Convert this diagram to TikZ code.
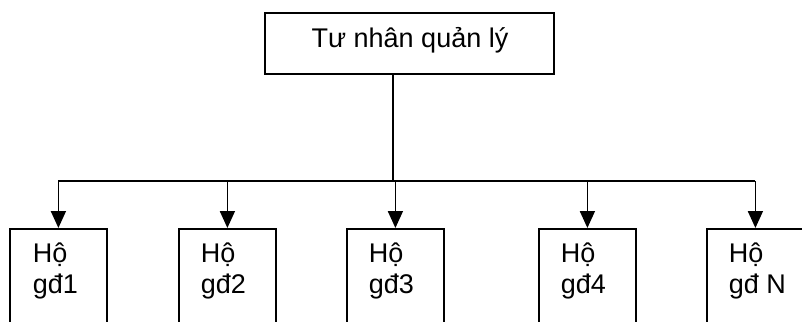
\documentclass[tikz,border=0pt]{standalone}
\usepackage{fontspec}
\setmainfont{Liberation Sans}
\usetikzlibrary{arrows.meta}
\begin{document}
\begin{tikzpicture}[x=1pt,y=-1pt,line width=1.8pt,
  box/.style={draw,rectangle,inner sep=0pt},
  hobox/.style={box,minimum width=97pt,minimum height=130pt,anchor=north west},
  txt/.style={font=\fontsize{27}{31}\selectfont,inner sep=0pt},
  hotxt/.style={txt,align=left,anchor=base west},
  link/.style={-{Triangle[length=17pt,width=15pt]}}]
\useasboundingbox (0,0) rectangle (802,321);
\clip (0,0) rectangle (802,321);
% owner box
\node[box,minimum width=289pt,minimum height=61pt] (top) at (409.5,43.5) {};
\node[txt,anchor=base] (toptext) at (410,48) {Tư nhân quản lý};
% household boxes
\node[hobox] (h1) at (9,228) {};
\node[hobox] (h2) at (178,228) {};
\node[hobox] (h3) at (346,228) {};
\node[hobox] (h4) at (538,228) {};
\node[hobox] (hN) at (706,228) {};
% labels: the base anchor sits on the last line
\node[hotxt] (t1) at (32,293) {Hộ\\gđ1};
\node[hotxt] (t2) at (200,293) {Hộ\\gđ2};
\node[hotxt] (t3) at (368,293) {Hộ\\gđ3};
\node[hotxt] (t4) at (560,293) {Hộ\\gđ4};
\node[hotxt] (tN) at (728,293) {Hộ\\gđ N};
% connectors
\coordinate (hub) at (393,181);
\draw (top.south -| hub) -- (hub);
\draw (h1.north |- hub) -- (hN.north |- hub);
\foreach \b in {h1,h2,h3,h4,hN}
  \draw[link] (\b.north |- hub) -- (\b.north);
\end{tikzpicture}
\end{document}
